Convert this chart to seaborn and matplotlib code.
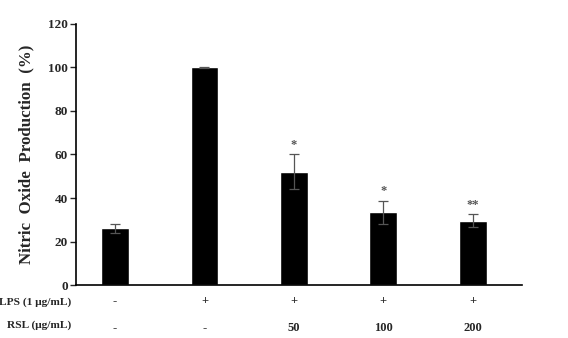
import matplotlib
matplotlib.use("Agg")
import matplotlib.pyplot as plt
import seaborn as sns
import pandas as pd

groups = ["G1", "G2", "G3", "G4", "G5"]
means = [26.0, 100.0, 52.0, 33.4, 29.6]
errors = [2.0, 0.4, 8.0, 5.4, 3.0]
stars = ["", "", "*", "*", "**"]
lps_row = ["-", "+", "+", "+", "+"]
rsl_row = ["-", "-", "50", "100", "200"]
yticks = [0, 20, 40, 60, 80, 100, 120]

sns.set_theme(style="white")
plt.rcParams['font.family'] = ['Liberation Serif', 'DejaVu Serif']

df = pd.DataFrame({"group": groups, "value": means})

fig = plt.figure(figsize=(5.68, 3.38), dpi=100)
ax = fig.add_axes([0.1338, 0.1568, 0.7852, 0.7722])
sns.barplot(data=df, x="group", y="value", color="black", width=0.31,
            errorbar=None, ax=ax, saturation=1)
xs = list(range(len(groups)))
ax.errorbar(xs, means, yerr=errors, fmt="none", ecolor="#555555",
            elinewidth=0.9, capsize=3.5, capthick=0.9)
for x, m, e, s in zip(xs, means, errors, stars):
    if s:
        ax.text(x, m + e + 1.5, s, ha="center", va="bottom", fontsize=9,
                color="#555555", fontweight="bold")

ax.set_xlim(-0.436, 4.55)
ax.set_ylim(0, 120)
ax.set_yticks(yticks)
ax.set_yticklabels([str(t) for t in yticks], fontsize=9.5, fontweight="bold")
ax.set_xticks([])
ax.set_xlabel("")
ax.set_ylabel("Nitric  Oxide  Production  (%)", fontsize=12.2, fontweight="bold",
              labelpad=10)
ax.tick_params(axis="y", direction="out", length=4, width=1, left=True, pad=2)
for side in ["top", "right"]:
    ax.spines[side].set_visible(False)
for side in ["left", "bottom"]:
    ax.spines[side].set_color("black")
    ax.spines[side].set_linewidth(1.2)

trans = ax.get_xaxis_transform()
for x, l, r in zip(xs, lps_row, rsl_row):
    ax.text(x, -0.06, l, transform=trans, ha="center", va="center",
            fontsize=9, fontweight="bold")
    ax.text(x, -0.165, r, transform=trans, ha="center", va="center",
            fontsize=9, fontweight="bold")
fig.text(71 / 568, 1 - 302 / 338, "LPS (1 \u03bcg/mL)", ha="right", va="center",
         fontsize=8.2, fontweight="bold")
fig.text(71 / 568, 1 - 325 / 338, "RSL (\u03bcg/mL)", ha="right", va="center",
         fontsize=8.2, fontweight="bold")

fig.savefig("out.png", dpi=100, facecolor="white")
